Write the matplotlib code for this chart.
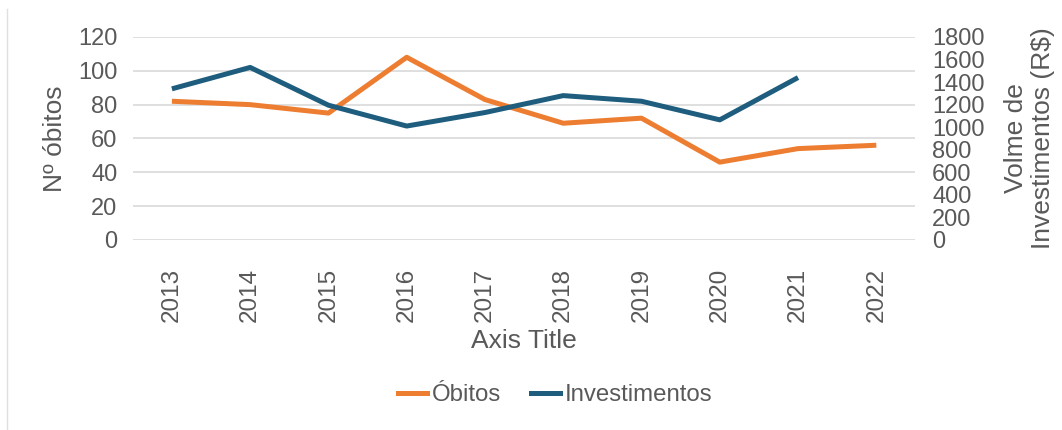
import matplotlib.pyplot as plt
from matplotlib.lines import Line2D

anos = ["2013", "2014", "2015", "2016", "2017", "2018", "2019", "2020", "2021", "2022"]
obitos = [82, 80, 75, 108, 83, 69, 72, 46, 54, 56]
investimentos = [1340, 1530, 1195, 1010, 1130, 1280, 1230, 1065, 1440]

laranja = "#ED7D31"
azul = "#1E5D7E"
cinza = "#595959"

plt.rcParams["font.family"] = ["Liberation Sans", "DejaVu Sans"]

fig = plt.figure(figsize=(10.62, 4.3), dpi=100)
ax = fig.add_axes([0.125, 0.442, 0.737, 0.472])
ax2 = ax.twinx()

x = list(range(len(anos)))
ax.plot(x, obitos, color=laranja, lw=3.6, solid_capstyle="butt", zorder=3)
ax2.plot(x[:len(investimentos)], investimentos, color=azul, lw=3.6,
         solid_capstyle="butt", zorder=3)

ax.set_xlim(-0.5, len(anos) - 0.5)
ax.set_ylim(0, 120)
ax.set_yticks(range(0, 121, 20))
ax2.set_ylim(0, 1800)
ax2.set_yticks(range(0, 1801, 200))

ax.set_xticks(x)
ax.set_xticklabels(anos, rotation=90, fontsize=17.5)
ax.grid(axis="y", color="#d9d9d9", lw=1.2)
ax.set_axisbelow(True)

for a in (ax, ax2):
    for s in a.spines.values():
        s.set_visible(False)
    a.tick_params(length=0, labelsize=17, colors=cinza)
ax.tick_params(axis="y", pad=11)
ax.tick_params(axis="x", pad=20, labelsize=17.5)
ax2.tick_params(axis="y", pad=12)

ax.set_ylabel("Nº óbitos", fontsize=19, color=cinza, labelpad=8)
ax2.set_ylabel("Volme de\nInvestimentos (R$)", fontsize=19, color=cinza,
               labelpad=14, linespacing=1.15)
ax.set_xlabel("Axis Title", fontsize=19, color=cinza, labelpad=5)

handles = [Line2D([], [], color=laranja, lw=3.6), Line2D([], [], color=azul, lw=3.6)]
fig.legend(handles, ["Óbitos", "Investimentos"], loc="center", bbox_to_anchor=(0.5226, 0.081),
           ncol=2, frameon=False, fontsize=17.3, labelcolor=cinza, handlelength=1.2,
           handletextpad=0.2, columnspacing=1.25)

fig.add_artist(Line2D([0.007, 0.007], [0.0, 0.98], color="#e0e0e0", lw=1))

fig.savefig("out.png", dpi=100)
